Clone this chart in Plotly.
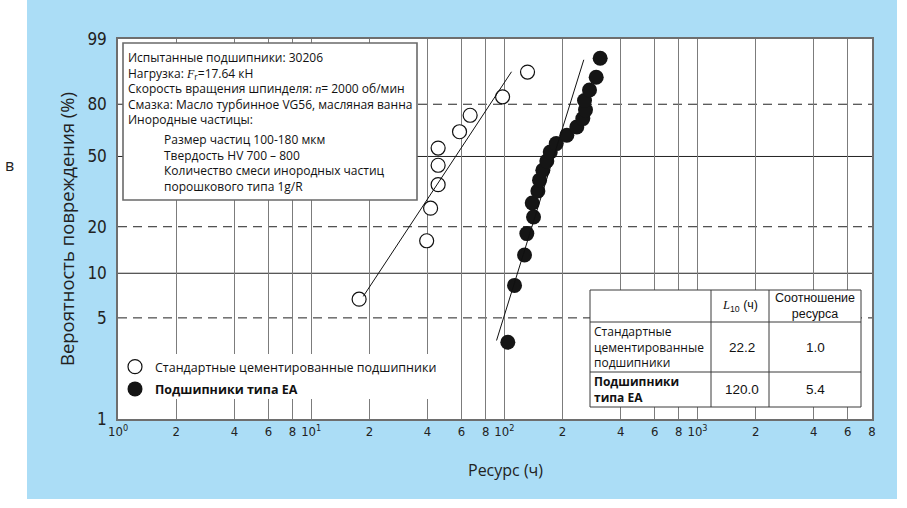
import numpy as np
import plotly.graph_objects as go

# ---------------- data ----------------
std_hours = [17.7, 39.6, 41.5, 45.4, 45.4, 45.4, 58.6, 66.5, 97.9, 131.8]
std_prob = [6.7, 16.3, 26.0, 35.6, 45.2, 54.8, 64.4, 74.0, 83.7, 93.3]

ea_hours = [104.2, 112.9, 127.2, 130.7, 141.6, 139.4, 149.1, 152.1, 158.2, 165.9,
            172.8, 185.6, 210.6, 237.2, 254.8, 263.1, 260.0, 276.0, 298.9, 313.4]
ea_prob = [3.4, 8.3, 13.2, 18.1, 23.0, 27.9, 32.8, 37.7, 42.6, 47.5,
           52.5, 57.4, 62.3, 67.2, 72.1, 77.0, 81.9, 86.8, 91.7, 96.6]

std_fit_hours = [18.6, 108.9]
std_fit_prob = [7.0, 93.4]
ea_fit_hours = [91.1, 257.8]
ea_fit_prob = [3.5, 96.3]

x_tickvals = [1, 2, 4, 6, 8, 10, 20, 40, 60, 80, 100, 200, 400, 600, 800,
              1000, 2000, 4000, 6000, 8000]
x_ticktext = ["10<sup>0</sup>", "2", "4", "6", "8", "10<sup>1</sup>", "2", "4", "6", "8",
              "10<sup>2</sup>", "2", "4", "6", "8", "10<sup>3</sup>", "2", "4", "6", "8"]
y_tickvals = [1, 5, 10, 20, 50, 80, 99]
y_ticktext = ["1", "5", "10", "20", "50", "80", "99"]
hgrid_solid = [50, 10]
hgrid_dashed = [80, 20, 5]

info_lines = ["Испытанные подшипники: 30206",
              "Нагрузка: <span style='font-family:Liberation Serif'><i>F</i></span><sub>r</sub>=17.64 кН",
              "Скорость вращения шпинделя: <span style='font-family:Liberation Serif'><i>n</i></span>= 2000 об/мин",
              "Смазка: Масло турбинное VG56, масляная ванна",
              "Инородные частицы:"]
info_sub_lines = ["Размер частиц 100-180 мкм",
                  "Твердость HV 700 – 800",
                  "Количество смеси инородных частиц",
                  "порошкового типа 1g/R"]

series_names = ["Стандартные цементированные подшипники", "<b>Подшипники типа EA</b>"]

table_header = ["", "<span style='font-family:Liberation Serif'><i>L</i></span><sub>10</sub> (ч)",
                "Соотношение<br>ресурса"]
table_rows = ["Стандартные<br>цементированные<br>подшипники", "<b>Подшипники<br>типа EA</b>"]
table_L10 = [22.2, 120.0]
table_ratio = [1.0, 5.4]

# ---------------- helpers ----------------
W, H = 907, 508
ML, MR, MT, MB = 118, 35, 39, 89
PW, PH = W - ML - MR, H - MT - MB


def fx(px):
    return (px - ML) / PW


def fy(py):
    return (H - MB - py) / PH


def weib(p):
    p = np.asarray(p, dtype=float) / 100.0
    return np.log(-np.log(1.0 - p))


BLUE = "#abddf6"
OPEN = "Open Sans, sans-serif"
NARROW = "Liberation Sans Narrow, DejaVu Sans Condensed, Liberation Sans, sans-serif"
ARIAL = "Liberation Sans, Arial, sans-serif"

fig = go.Figure()
fig.add_trace(go.Scatter(
    x=std_hours, y=weib(std_prob), mode="markers", name=series_names[0],
    legendgroup="a",
    marker=dict(symbol="circle", size=14, color="white", line=dict(color="#111", width=1.2))))
fig.add_trace(go.Scatter(
    x=ea_hours, y=weib(ea_prob), mode="markers", name=series_names[1],
    legendgroup="b",
    marker=dict(symbol="circle", size=15, color="#151515", line=dict(color="#151515", width=0))))
fig.add_trace(go.Scatter(
    x=std_fit_hours, y=weib(std_fit_prob), mode="lines", showlegend=False,
    line=dict(color="#111", width=1), hoverinfo="skip"))
fig.add_trace(go.Scatter(
    x=ea_fit_hours, y=weib(ea_fit_prob), mode="lines", showlegend=False,
    line=dict(color="#111", width=1), hoverinfo="skip"))

shapes = []
# white margins around the blue panel
for x0, x1, y0, y1 in [(0, 27, 0, H), (897, W, 0, H), (0, W, 499, H)]:
    shapes.append(dict(type="rect", xref="paper", yref="paper", x0=fx(x0), x1=fx(x1),
                       y0=fy(y1), y1=fy(y0), fillcolor="white", line=dict(width=0), layer="below"))
# horizontal probability grid lines
for v in hgrid_solid:
    shapes.append(dict(type="line", xref="paper", yref="y", x0=0, x1=1, y0=float(weib(v)),
                       y1=float(weib(v)), line=dict(color="#222", width=1), layer="below"))
for v in hgrid_dashed:
    shapes.append(dict(type="line", xref="paper", yref="y", x0=0, x1=1, y0=float(weib(v)),
                       y1=float(weib(v)), line=dict(color="#222", width=1, dash="9px,6px"),
                       layer="below"))
# info box
shapes.append(dict(type="rect", xref="paper", yref="paper", x0=fx(123), x1=fx(417),
                   y0=fy(200), y1=fy(43), fillcolor="white",
                   line=dict(color="#6a6a6a", width=1.6), layer="above"))
# legend background
shapes.append(dict(type="rect", xref="paper", yref="paper", x0=fx(127), x1=fx(437),
                   y0=fy(399), y1=fy(354), fillcolor="white", line=dict(width=0), layer="above"))
# table
tx = [590, 711, 769, 861]
ty = [290, 322, 372, 407]
shapes.append(dict(type="rect", xref="paper", yref="paper", x0=fx(tx[0]), x1=fx(tx[3]),
                   y0=fy(ty[3]), y1=fy(ty[0]), fillcolor="white",
                   line=dict(color="#3a3a3a", width=1), layer="above"))
for xv in tx[1:3]:
    shapes.append(dict(type="line", xref="paper", yref="paper", x0=fx(xv), x1=fx(xv),
                       y0=fy(ty[3]), y1=fy(ty[0]), line=dict(color="#3a3a3a", width=1),
                       layer="above"))
for yv in ty[1:3]:
    shapes.append(dict(type="line", xref="paper", yref="paper", x0=fx(tx[0]), x1=fx(tx[3]),
                       y0=fy(yv), y1=fy(yv), line=dict(color="#3a3a3a", width=1),
                       layer="above"))

annotations = []
annotations.append(dict(text="<br>".join(info_lines), xref="paper", yref="paper",
                        x=fx(126), y=fy(47), xanchor="left", yanchor="top", align="left",
                        showarrow=False, font=dict(family=OPEN, size=12, color="#111")))
annotations.append(dict(text="<br>".join(info_sub_lines), xref="paper", yref="paper",
                        x=fx(162), y=fy(128.5), xanchor="left", yanchor="top", align="left",
                        showarrow=False, font=dict(family=OPEN, size=12, color="#111")))
annotations.append(dict(text="в", xref="paper", yref="paper", x=fx(10), y=fy(165),
                        xanchor="center", yanchor="middle", showarrow=False,
                        font=dict(family=OPEN, size=16, color="#222")))
annotations.append(dict(text="Ресурс (ч)", xref="paper", yref="paper", x=fx(505), y=fy(470),
                        xanchor="center", yanchor="middle", showarrow=False,
                        font=dict(family=OPEN, size=16, color="#222")))
# table texts
col_c = [(tx[1] + tx[2]) / 2, (tx[2] + tx[3]) / 2]
row_c = [(ty[0] + ty[1]) / 2, (ty[1] + ty[2]) / 2, (ty[2] + ty[3]) / 2]
annotations.append(dict(text=table_header[1], xref="paper", yref="paper", x=fx(col_c[0]),
                        y=fy(row_c[0]), xanchor="center", yanchor="middle", showarrow=False,
                        font=dict(family=ARIAL, size=12.5, color="#111")))
annotations.append(dict(text=table_header[2], xref="paper", yref="paper", x=fx(col_c[1]),
                        y=fy(row_c[0]), xanchor="center", yanchor="middle", showarrow=False,
                        font=dict(family=ARIAL, size=12.5, color="#111")))
for i in range(2):
    annotations.append(dict(text=table_rows[i], xref="paper", yref="paper", x=fx(592),
                            y=fy(row_c[i + 1]), xanchor="left", yanchor="middle", align="left",
                            showarrow=False, font=dict(family=OPEN, size=12, color="#111")))
    annotations.append(dict(text=f"{table_L10[i]:.1f}", xref="paper", yref="paper",
                            x=fx(col_c[0] + 2), y=fy(row_c[i + 1]), xanchor="center",
                            yanchor="middle", showarrow=False,
                            font=dict(family=ARIAL, size=13.5, color="#111")))
    annotations.append(dict(text=f"{table_ratio[i]:.1f}", xref="paper", yref="paper",
                            x=fx(col_c[1]), y=fy(row_c[i + 1]), xanchor="center",
                            yanchor="middle", showarrow=False,
                            font=dict(family=ARIAL, size=13.5, color="#111")))

fig.update_layout(
    width=W, height=H, margin=dict(l=ML, r=MR, t=MT, b=MB),
    paper_bgcolor=BLUE, plot_bgcolor="white",
    shapes=shapes, annotations=annotations,
    showlegend=True,
    legend=dict(x=fx(115), y=fy(352), xanchor="left", yanchor="top",
                bgcolor="rgba(0,0,0,0)", borderwidth=0, traceorder="grouped",
                tracegroupgap=3, font=dict(family=OPEN, size=12.5, color="#111")),
)
fig.update_xaxes(
    type="log", range=[-0.0005, np.log10(8000) + 0.0005],
    tickmode="array", tickvals=x_tickvals, ticktext=x_ticktext,
    showgrid=True, gridcolor="#7c7c7c", gridwidth=1.2, zeroline=False,
    showline=True, linecolor="#6e6e6e", linewidth=1.5, mirror=True, ticks="",
    tickfont=dict(family=NARROW, size=13, color="#222"),
)
fig.update_yaxes(
    range=[float(weib(1)) - 0.001, float(weib(99)) + 0.001],
    tickmode="array", tickvals=[float(v) for v in weib(y_tickvals)], ticktext=y_ticktext,
    showgrid=False, zeroline=False,
    showline=True, linecolor="#6e6e6e", linewidth=1.5, mirror=True, ticks="",
    ticklabelstandoff=6,
    tickfont=dict(family=NARROW, size=17, color="#222"),
    title=dict(text="Вероятность повреждения (%)", standoff=8,
               font=dict(family=OPEN, size=18.5, color="#222")),
)

fig.write_html("out.html")
